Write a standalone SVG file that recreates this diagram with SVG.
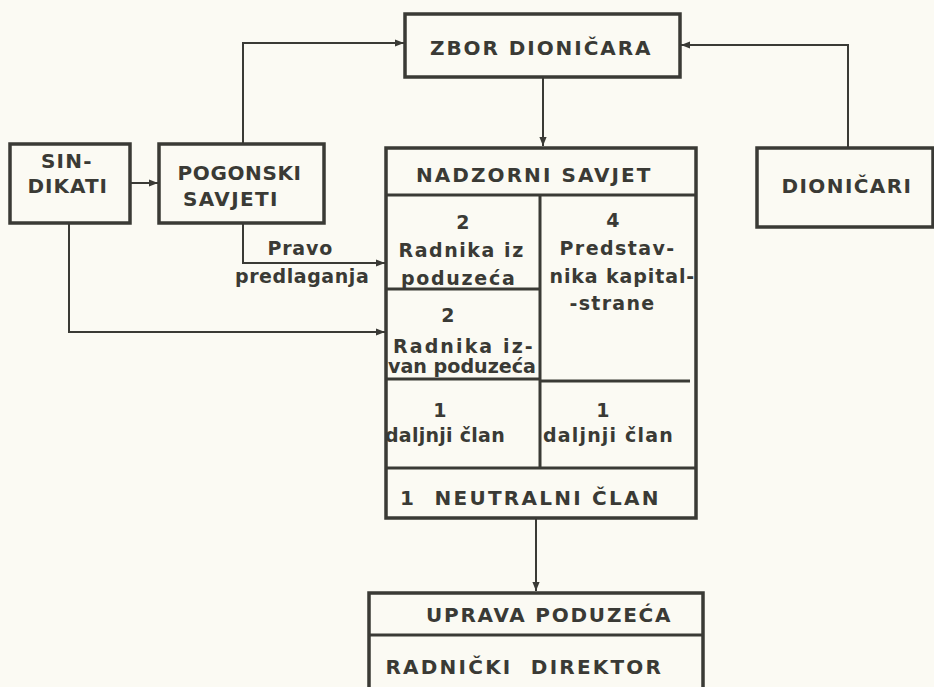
<svg xmlns="http://www.w3.org/2000/svg" width="934" height="687" viewBox="0 0 934 687">
<style>
.bx{fill:none;stroke:#3a3a35;stroke-width:3.5}
.dv{stroke:#3a3a35;stroke-width:3}
.cn{fill:none;stroke:#3a3a35;stroke-width:2}
text{font-family:"DejaVu Sans","Liberation Sans",sans-serif;font-weight:bold;fill:#3a3a35;text-anchor:middle}
.u{font-size:20px;letter-spacing:1.5px}
.l{font-size:19px;letter-spacing:0.3px}
</style>
<defs>
<marker id="ah" viewBox="0 0 10 10" refX="10" refY="5" markerWidth="12" markerHeight="9" markerUnits="userSpaceOnUse" orient="auto">
<path d="M0,1 L10,5 L0,9 Z" fill="#3a3a35"/>
</marker>
</defs>
<rect width="934" height="687" fill="#fbfaf3"/>
<g id="connectors">
<path class="cn" d="M243,143 V43 H404" marker-end="url(#ah)"/>
<path class="cn" d="M848,147 V45 H681" marker-end="url(#ah)"/>
<path class="cn" d="M543,77 V146" marker-end="url(#ah)"/>
<path class="cn" d="M130,183 H158" marker-end="url(#ah)"/>
<path class="cn" d="M243,223 V263 H385" marker-end="url(#ah)"/>
<path class="cn" d="M69,223 V332 H385" marker-end="url(#ah)"/>
<path class="cn" d="M536,518 V591" marker-end="url(#ah)"/>
<text class="l" x="300" y="255" textLength="65">Pravo</text>
<text class="l" x="302" y="283" textLength="134">predlaganja</text>
</g>
<g id="zbor">
<rect class="bx" x="405" y="14" width="275" height="63"/>
<text class="u" x="541" y="55" textLength="222">ZBOR DIONIČARA</text>
</g>
<g id="sindikati">
<rect class="bx" x="10" y="144" width="120" height="79"/>
<text class="u" x="67" y="168" textLength="52">SIN-</text>
<text class="u" x="68" y="193" textLength="81">DIKATI</text>
</g>
<g id="pogonski">
<rect class="bx" x="159" y="144" width="165" height="79"/>
<text class="u" x="240" y="180" textLength="125">POGONSKI</text>
<text class="u" x="231" y="206" textLength="96">SAVJETI</text>
</g>
<g id="dionicari">
<rect class="bx" x="757" y="148" width="176" height="79"/>
<text class="u" x="847" y="193" textLength="131">DIONIČARI</text>
</g>
<g id="nadzorni">
<rect class="bx" x="386" y="148" width="310" height="370"/>
<line class="dv" x1="386" y1="195" x2="696" y2="195"/>
<line class="dv" x1="540" y1="195" x2="540" y2="468"/>
<line class="dv" x1="386" y1="289" x2="540" y2="289"/>
<line class="dv" x1="386" y1="379" x2="540" y2="379"/>
<line class="dv" x1="540" y1="381" x2="690" y2="381"/>
<line class="dv" x1="386" y1="468" x2="696" y2="468"/>
<text class="u" x="534" y="182" textLength="236">NADZORNI SAVJET</text>
<text class="l" x="463" y="229">2</text>
<text class="l" x="461" y="257" textLength="125">Radnika iz</text>
<text class="l" x="458" y="285" textLength="114">poduzeća</text>
<text class="l" x="448" y="322">2</text>
<text class="l" x="463" y="353" textLength="140">Radnika iz-</text>
<text class="l" x="462" y="373" textLength="148" lengthAdjust="spacingAndGlyphs" style="letter-spacing:0">van poduzeća</text>
<text class="l" x="613" y="227">4</text>
<text class="l" x="617" y="255" textLength="115">Predstav-</text>
<text class="l" x="622" y="283" textLength="145">nika kapital-</text>
<text class="l" x="612" y="310" textLength="85">-strane</text>
<text class="l" x="440" y="417">1</text>
<text class="l" x="445" y="442" textLength="120">daljnji član</text>
<text class="l" x="603" y="417">1</text>
<text class="l" x="608" y="442" textLength="130">daljnji član</text>
<text class="u" x="530" y="505" textLength="260" xml:space="preserve">1  NEUTRALNI ČLAN</text>
</g>
<g id="uprava">
<rect class="bx" x="369" y="593" width="334" height="100"/>
<line class="dv" x1="369" y1="635" x2="703" y2="635"/>
<text class="u" x="549" y="622" textLength="246">UPRAVA PODUZEĆA</text>
<text class="u" x="524" y="674" textLength="277" xml:space="preserve">RADNIČKI  DIREKTOR</text>
</g>
</svg>
